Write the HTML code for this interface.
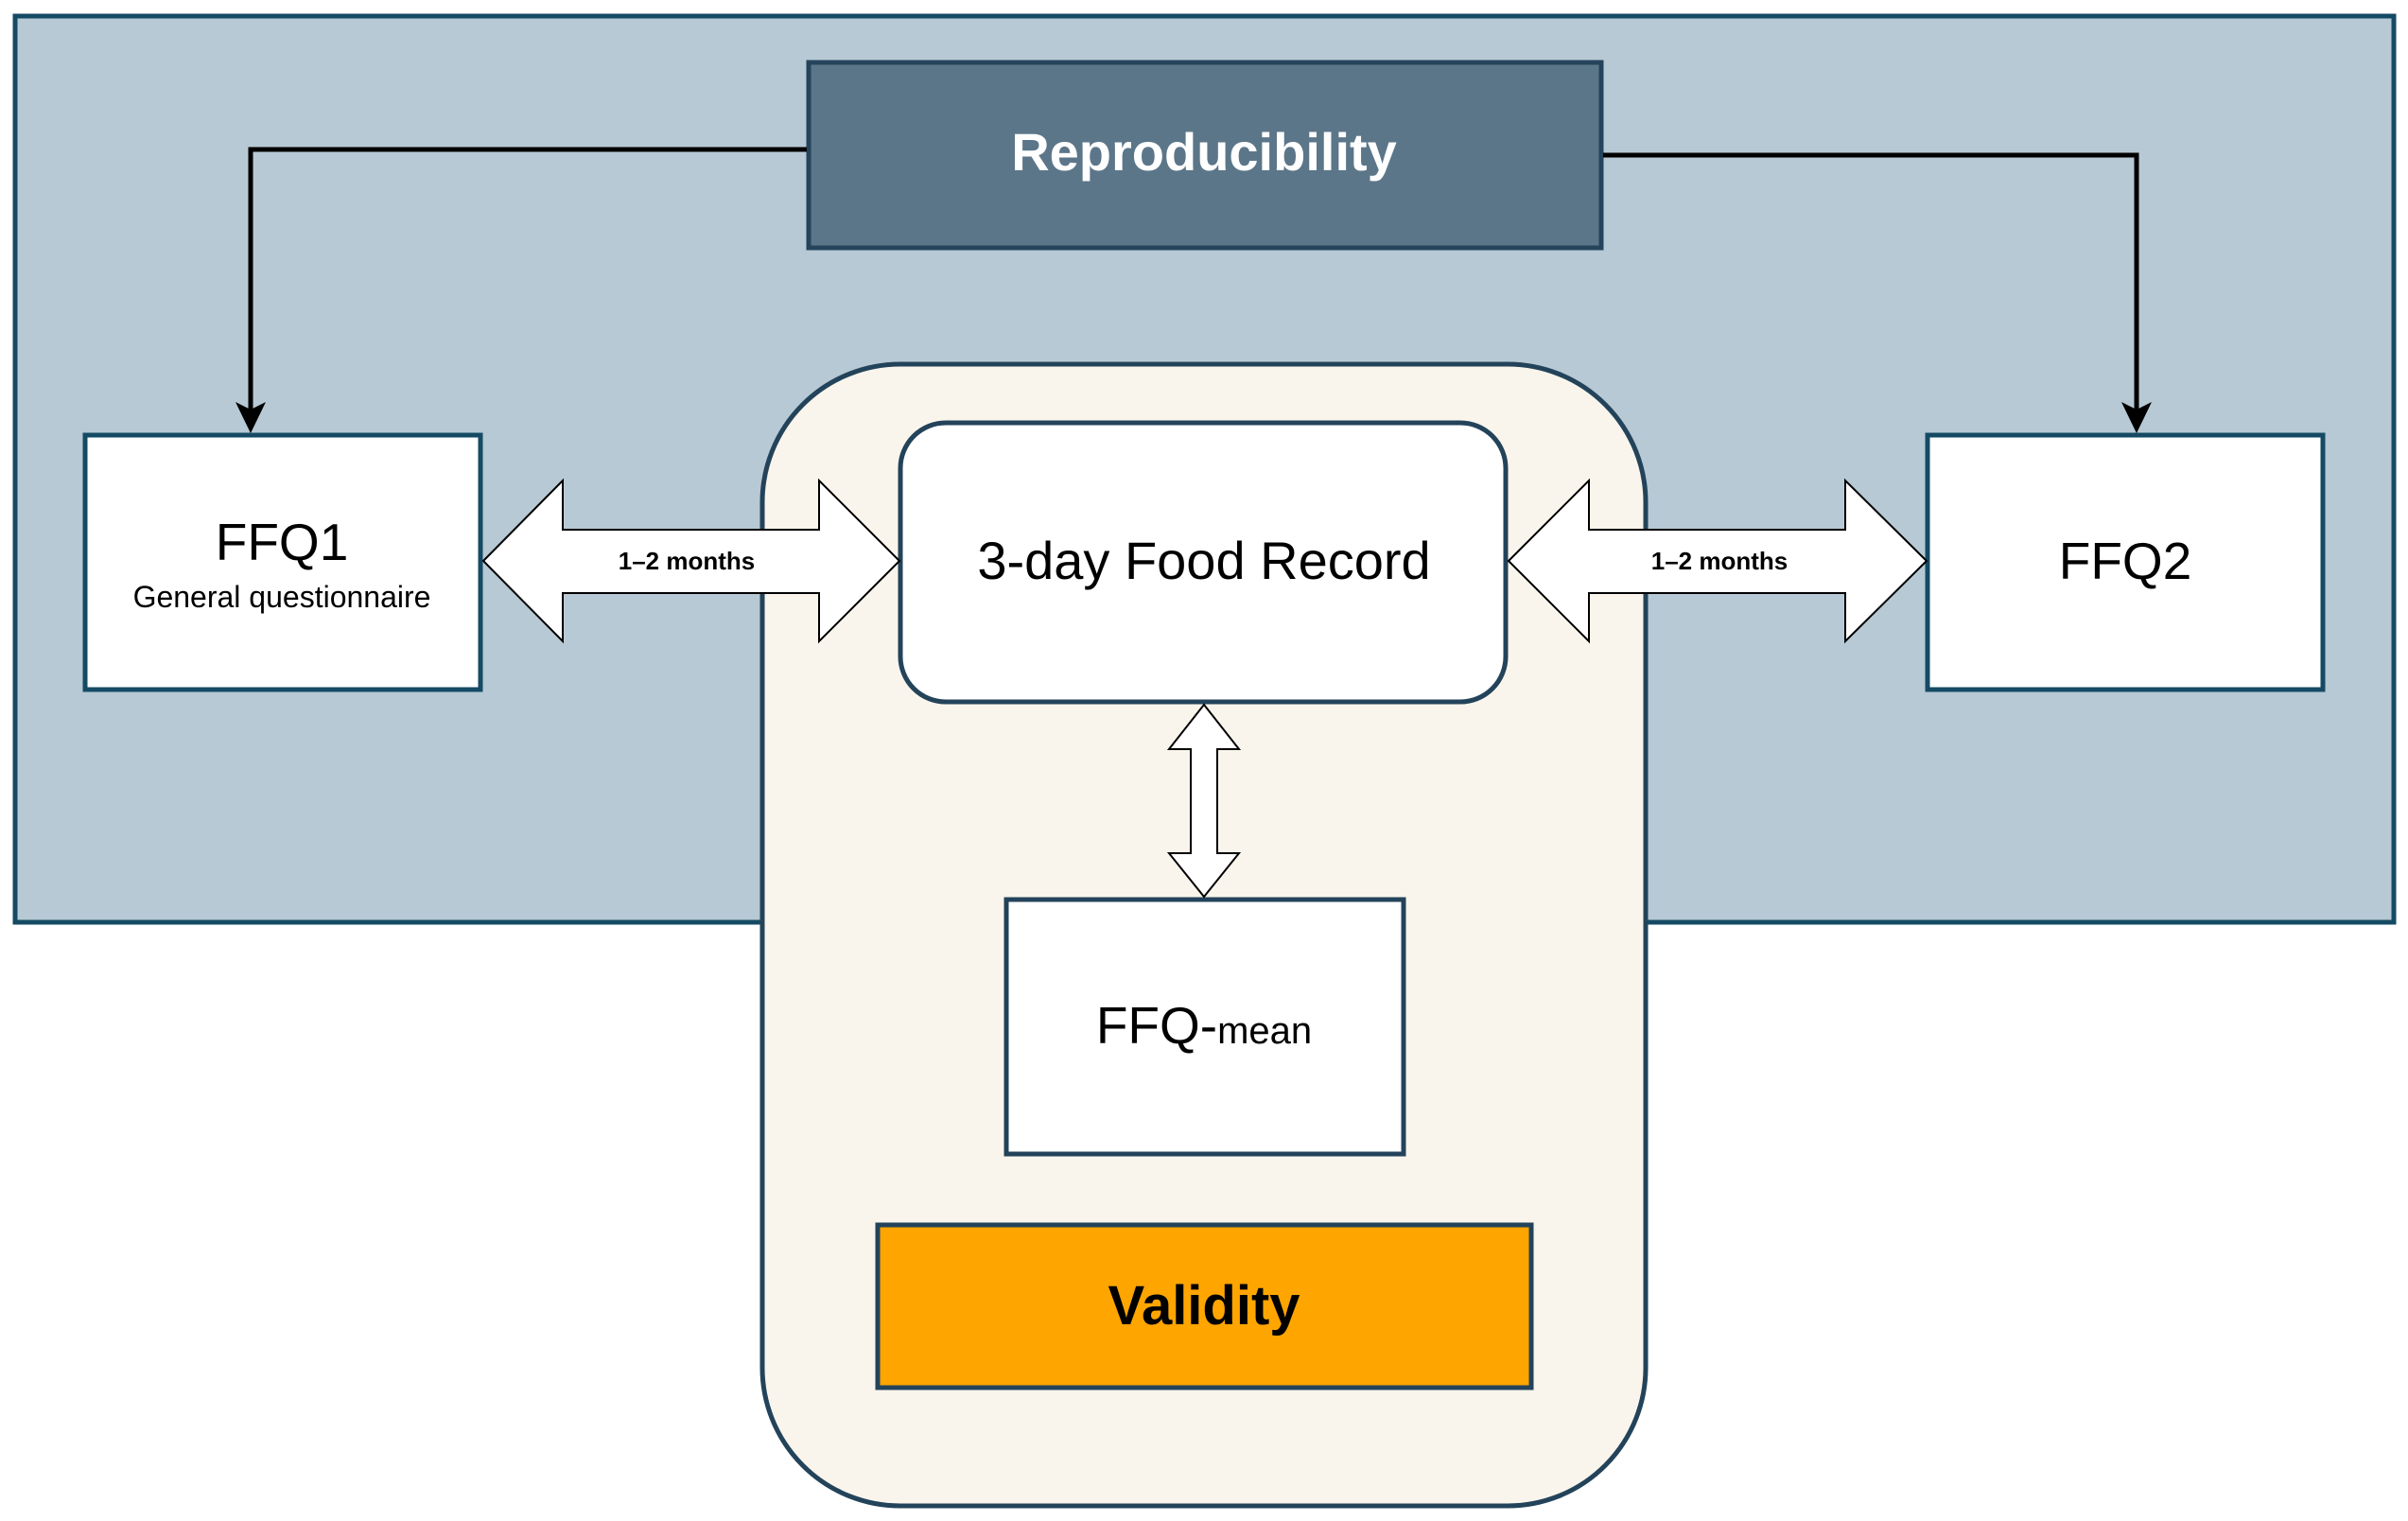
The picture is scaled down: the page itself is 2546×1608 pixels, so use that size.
<!DOCTYPE html>
<html><head><meta charset="utf-8"><style>
html,body{margin:0;padding:0;background:#fff;}
svg{display:block;}
text{font-family:"Liberation Sans",Arial,sans-serif;}
</style></head><body>
<svg width="2546" height="1608" viewBox="0 0 2546 1608" xmlns="http://www.w3.org/2000/svg">
<rect x="16" y="17" width="2515" height="958" fill="#b7c9d4" stroke="#154a64" stroke-width="5"/>
<rect x="806" y="385" width="934" height="1207" rx="146" ry="146" fill="#f9f5ec" stroke="#23435a" stroke-width="5"/>
<rect x="855" y="66" width="838" height="196" fill="#5c7689" stroke="#25445c" stroke-width="5"/>
<text x="1273" y="180" font-size="56" font-weight="bold" fill="#fff" text-anchor="middle">Reproducibility</text>
<!-- connectors -->
<polyline points="853,158 265,158 265,440" fill="none" stroke="#000" stroke-width="5"/>
<polygon points="249,425 265,458 281,425 265,433" fill="#000"/>
<polyline points="1695,164 2259,164 2259,440" fill="none" stroke="#000" stroke-width="5"/>
<polygon points="2243,425 2259,458 2275,425 2259,433" fill="#000"/>
<!-- boxes -->
<rect x="90" y="460" width="418" height="269" fill="#fff" stroke="#154a64" stroke-width="5"/>
<text x="298" y="592" font-size="55" text-anchor="middle">FFQ1</text>
<text x="298" y="642" font-size="32" text-anchor="middle">General questionnaire</text>
<rect x="2038" y="460" width="418" height="269" fill="#fff" stroke="#154a64" stroke-width="5"/>
<text x="2247" y="612" font-size="55" text-anchor="middle">FFQ2</text>
<rect x="952" y="447" width="640" height="295" rx="48" ry="48" fill="#fff" stroke="#23435a" stroke-width="5"/>
<text x="1273" y="612" font-size="56" text-anchor="middle">3-day Food Record</text>
<rect x="1064" y="951" width="420" height="269" fill="#fff" stroke="#23435a" stroke-width="5"/>
<text x="1273" y="1103" font-size="55" text-anchor="middle">FFQ-<tspan font-size="40">mean</tspan></text>
<rect x="928" y="1295" width="691" height="172" fill="#ffa500" stroke="#23435a" stroke-width="5"/>
<text x="1273" y="1400" font-size="58" font-weight="bold" text-anchor="middle">Validity</text>
<!-- arrows -->
<polygon points="511,593 595,508 595,560 866,560 866,508 951,593 866,678 866,627 595,627 595,678" fill="#fff" stroke="#000" stroke-width="2"/>
<text x="726" y="602" font-size="26" font-weight="bold" text-anchor="middle">1–2 months</text>
<polygon points="1595,593 1680,508 1680,560 1951,560 1951,508 2037,593 1951,678 1951,627 1680,627 1680,678" fill="#fff" stroke="#000" stroke-width="2"/>
<text x="1818" y="602" font-size="26" font-weight="bold" text-anchor="middle">1–2 months</text>
<polygon points="1273,745 1310,792 1287,792 1287,902 1310,902 1273,948 1236,902 1259,902 1259,792 1236,792" fill="#fff" stroke="#000" stroke-width="2"/>
</svg>
</body></html>
